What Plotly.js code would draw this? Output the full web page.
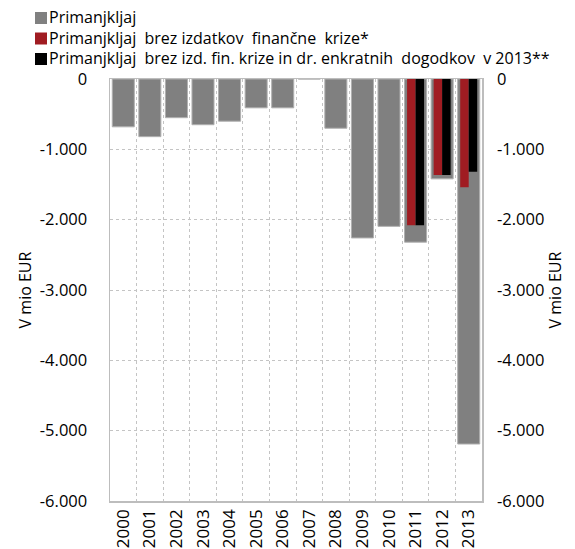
<!DOCTYPE html>
<html>
<head>
<meta charset="utf-8">
<script src="https://cdn.plot.ly/plotly-3.0.1.min.js"></script>
<style>
html,body{margin:0;padding:0;background:#fff;}
#chart{width:575px;height:549px;}
</style>
</head>
<body>
<div id="chart"></div>
<script>
var years = ['2000','2001','2002','2003','2004','2005','2006','2007','2008','2009','2010','2011','2012','2013'];
var primanjkljaj = [-680, -820, -550, -650, -600, -410, -410, 0, -700, -2260, -2095, -2320, -1420, -5190];
var brezKrize = [null, null, null, null, null, null, null, null, null, null, null, -2080, -1365, -1540];
var brezEnkratnih = [null, null, null, null, null, null, null, null, null, null, null, -2080, -1365, -1320];
var seriesNames = ['Primanjkljaj', 'Primanjkljaj  brez izdatkov  finančne  krize*', 'Primanjkljaj  brez izd. fin. krize in dr. enkratnih  dogodkov  v 2013**'];
var seriesColors = ['#808080', '#a01c22', '#000000'];
var yTickVals = [0, -1000, -2000, -3000, -4000, -5000, -6000];
var yTickText = ['0', '-1.000', '-2.000', '-3.000', '-4.000', '-5.000', '-6.000'];
var yTitle = 'V mio EUR';

var FONT = 'Open Sans, Noto Sans, sans-serif';
var W = 575, H = 549, ML = 110, MR = 93, MT = 79, MB = 48;
var PW = W - ML - MR, PH = H - MT - MB;
function px2x(px){ return (px - ML) / PW; }
function py2y(py){ return (H - MB - py) / PH; }

var traces = [
  {type:'bar', name:seriesNames[0], x:years, y:primanjkljaj, width:0.83, yaxis:'y',
   marker:{color:seriesColors[0], line:{color:'#b0b0b0', width:1}}, hoverinfo:'x+y'},
  {type:'bar', name:seriesNames[1], x:years, y:brezKrize, width:0.32, offset:-0.32, yaxis:'y2',
   marker:{color:seriesColors[1], line:{width:0}}, hoverinfo:'x+y'},
  {type:'bar', name:seriesNames[2], x:years, y:brezEnkratnih, width:0.32, offset:0, yaxis:'y2',
   marker:{color:seriesColors[2], line:{width:0}}, hoverinfo:'x+y'}
];

// manual legend (squares + labels) placed in paper coordinates
var legendRowsPx = [18, 38.5, 59];
var shapes = [], annotations = [];
for (var i = 0; i < seriesNames.length; i++) {
  var cy = legendRowsPx[i];
  shapes.push({type:'rect', xref:'paper', yref:'paper',
    x0:px2x(35), x1:px2x(47), y0:py2y(cy + 6), y1:py2y(cy - 6),
    fillcolor:seriesColors[i], line:{width:0}});
  annotations.push({xref:'paper', yref:'paper', x:px2x(48), y:py2y(cy - 1), xanchor:'left', yanchor:'middle',
    text:seriesNames[i].replace(/  /g, ' \u00a0'), showarrow:false, borderpad:0,
    font:{family:FONT, size:16, color:'#000'}});
}

var yCommon = {
  range:[-6000, 0], tickvals:yTickVals, ticktext:yTickText, ticks:'',
  tickfont:{family:FONT, size:16.5, color:'#000'}, zeroline:false, fixedrange:true
};

var layout = {
  width:W, height:H,
  margin:{l:ML, r:MR, t:MT, b:MB, pad:0},
  paper_bgcolor:'#fff', plot_bgcolor:'#fff',
  font:{family:FONT, color:'#000'},
  barmode:'overlay',
  showlegend:false,
  shapes:shapes,
  annotations:annotations,
  xaxis:{type:'category', tickangle:-90, tickson:'boundaries', showgrid:true,
         gridcolor:'#c4c4c4', griddash:'dot', gridwidth:1, ticks:'',
         tickfont:{family:FONT, size:17, color:'#000'},
         showline:true, linecolor:'#bdbdbd', linewidth:1.5, mirror:true, fixedrange:true},
  yaxis:Object.assign({}, yCommon, {
         side:'left', showgrid:true, gridcolor:'#c4c4c4', griddash:'dot', gridwidth:1,
         showline:true, linecolor:'#bdbdbd', linewidth:1.5, mirror:true,
         ticklabelstandoff:18,
         title:{text:yTitle, font:{family:FONT, size:16, color:'#000'}, standoff:4}}),
  yaxis2:Object.assign({}, yCommon, {
         overlaying:'y', side:'right', showgrid:false, showline:false,
         ticklabelstandoff:14,
         title:{text:yTitle, font:{family:FONT, size:16, color:'#000'}, standoff:6}})
};

Plotly.newPlot('chart', traces, layout, {displayModeBar:false, staticPlot:true});
</script>
</body>
</html>
